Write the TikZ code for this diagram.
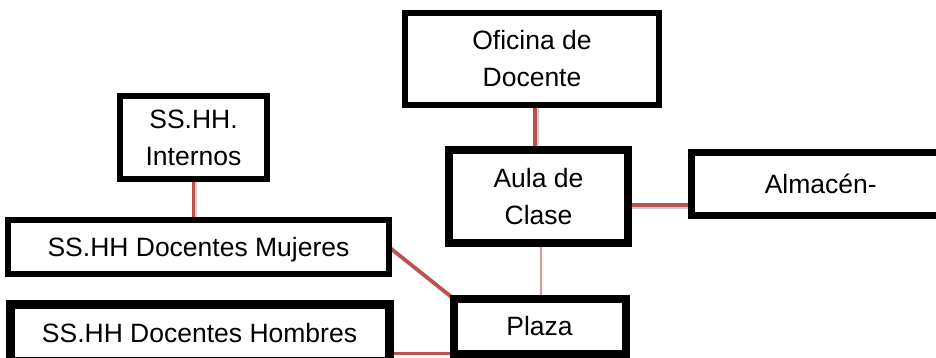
\documentclass[tikz,border=0pt]{standalone}
\usepackage{fontspec}
\setmainfont{Liberation Sans}
\usetikzlibrary{backgrounds}
\definecolor{linkred}{HTML}{C0504D}
\definecolor{thinred}{HTML}{D49A98}
\tikzset{
  room/.style={draw=black, fill=white, inner sep=0pt, outer sep=0pt,
    font=\fontsize{26.5}{37}\selectfont, align=center},
  oneline/.style={text height=19pt, text depth=0pt},
  link/.style={draw=linkred, line width=3.6pt},
  thinlink/.style={draw=thinred, line width=1.5pt},
  linkshadow/.style={draw=black, opacity=0.18, line width=3.6pt},
}
\begin{document}
\begin{tikzpicture}[x=1pt,y=-1pt]
\useasboundingbox (0,0) rectangle (936,358);

\node[room, line width=5.5pt, minimum width=254pt, minimum height=92pt] (ofi) at (532,59) {Oficina de\\Docente};
\node[room, line width=8pt, minimum width=179pt, minimum height=93pt] (aula) at (538.5,196.5) {Aula de\\Clase};
\node[room, line width=6pt, minimum width=147pt, minimum height=83pt] (intern) at (193.5,137.5) {SS.HH.\\Internos};
\node[room, oneline, line width=6.5pt, minimum width=381pt, minimum height=54pt] (muj) at (198.5,247) {SS.HH Docentes Mujeres};
\node[room, oneline, line width=9pt, minimum width=379pt, minimum height=57pt] (hom) at (199.5,333) {SS.HH Docentes Hombres};
\node[room, oneline, line width=7.5pt, minimum width=258.5pt, minimum height=62.5pt] (alm) at (820.75,184) {Almac\'en-};
\node[room, oneline, line width=8pt, minimum width=172pt, minimum height=55pt] (plaza) at (539.5,326) {Plaza};

\path ([xshift=3pt]ofi.south) coordinate (c1);
\path ([yshift=-8.5pt]aula.east) coordinate (c2);
\path ([xshift=2.5pt]aula.south) coordinate (c3);

\begin{scope}[on background layer]
  \fill[white] (0,0) rectangle (936,358);
  % shadows
  \draw[linkshadow] ([xshift=2pt,yshift=-2pt]c1) -- ([xshift=2pt,yshift=-2pt]c1 |- aula.north);
  \draw[linkshadow] ([xshift=2pt,yshift=-2pt]intern.south) -- ([xshift=2pt,yshift=-2pt]intern.south |- muj.north);
  \draw[linkshadow] ([xshift=1pt,yshift=-2.5pt]c2) -- ([xshift=1pt,yshift=-2.5pt]c2 -| alm.west);
  \draw[linkshadow] ([xshift=1.5pt,yshift=-2pt]muj.east) -- ([xshift=1.5pt,yshift=-2pt]plaza.north west);
  % connectors
  \draw[link] (c1) -- (c1 |- aula.north);
  \draw[link] (intern.south) -- (intern.south |- muj.north);
  \draw[link] (c2) -- (c2 -| alm.west);
  \draw[link] (muj.east) -- (plaza.north west);
  \draw[link] (plaza.south west) -- (plaza.south west -| hom.east);
  \draw[thinlink] (c3) -- (c3 |- plaza.north);
\end{scope}
\end{tikzpicture}
\end{document}
